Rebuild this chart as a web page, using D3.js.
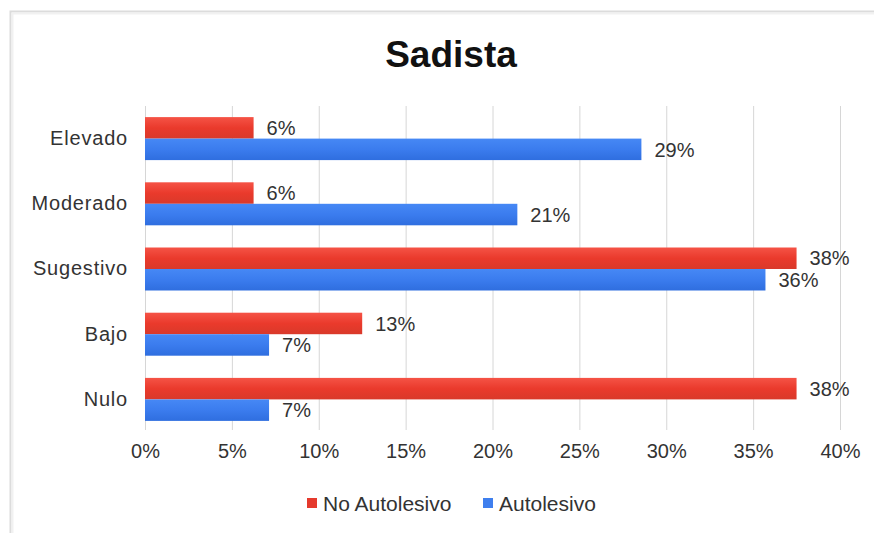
<!DOCTYPE html>
<html>
<head>
<meta charset="utf-8">
<script src="https://cdn.jsdelivr.net/npm/d3@7"></script>
<style>
  html, body { margin: 0; padding: 0; background: #fff; }
  svg { display: block; }
  text { font-family: "Liberation Sans", Arial, sans-serif; }
</style>
</head>
<body>
<svg id="chart" width="874" height="533"></svg>
<script>
const title = "Sadista";
const categories = ["Elevado", "Moderado", "Sugestivo", "Bajo", "Nulo"];
const seriesNames = ["No Autolesivo", "Autolesivo"];
const noAutolesivo = [6.25, 6.25, 37.5, 12.5, 37.5];
const autolesivo = [28.57, 21.43, 35.71, 7.14, 7.14];
const valueLabelsNo = ["6%", "6%", "38%", "13%", "38%"];
const valueLabelsAuto = ["29%", "21%", "36%", "7%", "7%"];
const tickValues = [0, 5, 10, 15, 20, 25, 30, 35, 40];

const svg = d3.select("#chart");
const W = 874, H = 533;

// gradients
const defs = svg.append("defs");
function grad(id, stops) {
  const g = defs.append("linearGradient").attr("id", id)
    .attr("x1", 0).attr("y1", 0).attr("x2", 0).attr("y2", 1);
  stops.forEach(s => g.append("stop").attr("offset", s[0]).attr("stop-color", s[1]));
}
grad("gRed", [[0, "#f55346"], [0.5, "#ea3a2c"], [1, "#d9392a"]]);
grad("gBlue", [[0, "#4688f5"], [0.5, "#3b7cee"], [1, "#2f6edf"]]);
const colors = ["url(#gRed)", "url(#gBlue)"];
const legendColors = ["#e53a2d", "#3f7fee"];

// frame
svg.append("rect").attr("x", 0).attr("y", 0).attr("width", W).attr("height", H).attr("fill", "#fff");
svg.append("rect").attr("x", 10.5).attr("y", 11.5).attr("width", 900).attr("height", 600)
  .attr("fill", "#fff").attr("stroke", "#dcdcdc").attr("stroke-width", 2);
svg.append("rect").attr("x", 12.5).attr("y", 13.5).attr("width", 900).attr("height", 600)
  .attr("fill", "none").attr("stroke", "#f1f1f1").attr("stroke-width", 2);

const x = d3.scaleLinear().domain([0, 40]).range([145, 840]);
const y = d3.scaleBand().domain(categories).range([106, 432]).padding(0);
const barH = 21.5;
const groupOff = (y.bandwidth() - 2 * barH) / 2;

// title
svg.append("text").attr("x", 451).attr("y", 67).attr("text-anchor", "middle")
  .attr("font-size", 37).attr("font-weight", "bold").attr("fill", "#111").text(title);

// gridlines
svg.append("g").selectAll("line").data(tickValues).join("line")
  .attr("x1", d => x(d) + 0.5).attr("x2", d => x(d) + 0.5)
  .attr("y1", 106).attr("y2", 430)
  .attr("stroke", "#d6d6d6").attr("stroke-width", 1);

// x axis tick labels
const xAxis = d3.axisBottom(x).tickValues(tickValues).tickFormat(d => d + "%").tickSize(0).tickPadding(0);
const gx = svg.append("g").attr("transform", "translate(0,444)").call(xAxis);
gx.select(".domain").remove();
gx.selectAll("text").attr("font-size", 20).attr("fill", "#333")
  .attr("font-family", "Liberation Sans, Arial, sans-serif").attr("dy", "0.71em");

// y axis category labels
const yAxis = d3.axisLeft(y).tickSize(0).tickPadding(0);
const gy = svg.append("g").attr("transform", "translate(128,0)").call(yAxis);
gy.select(".domain").remove();
gy.selectAll("text").attr("font-size", 20).attr("fill", "#333")
  .attr("letter-spacing", "0.8px")
  .attr("font-family", "Liberation Sans, Arial, sans-serif");

// bars
const series = [noAutolesivo, autolesivo];
const labels = [valueLabelsNo, valueLabelsAuto];
series.forEach((vals, si) => {
  const g = svg.append("g");
  g.selectAll("rect").data(vals).join("rect")
    .attr("x", x(0))
    .attr("y", (d, i) => y(categories[i]) + groupOff + si * barH)
    .attr("width", d => x(d) - x(0))
    .attr("height", barH)
    .attr("fill", colors[si]);
  g.selectAll("text").data(vals).join("text")
    .attr("x", d => x(d) + 13)
    .attr("y", (d, i) => y(categories[i]) + groupOff + si * barH + barH / 2)
    .attr("dy", "0.36em")
    .attr("font-size", 20).attr("fill", "#333")
    .text((d, i) => labels[si][i]);
});

// legend
const legendItems = [
  { name: seriesNames[0], color: legendColors[0], x: 307 },
  { name: seriesNames[1], color: legendColors[1], x: 483 }
];
const lg = svg.append("g");
legendItems.forEach(it => {
  lg.append("rect").attr("x", it.x).attr("y", 498).attr("width", 10).attr("height", 10).attr("fill", it.color);
  lg.append("text").attr("x", it.x + 16).attr("y", 503).attr("dy", "0.36em")
    .attr("font-size", 21).attr("fill", "#333").text(it.name);
});
</script>
</body>
</html>
